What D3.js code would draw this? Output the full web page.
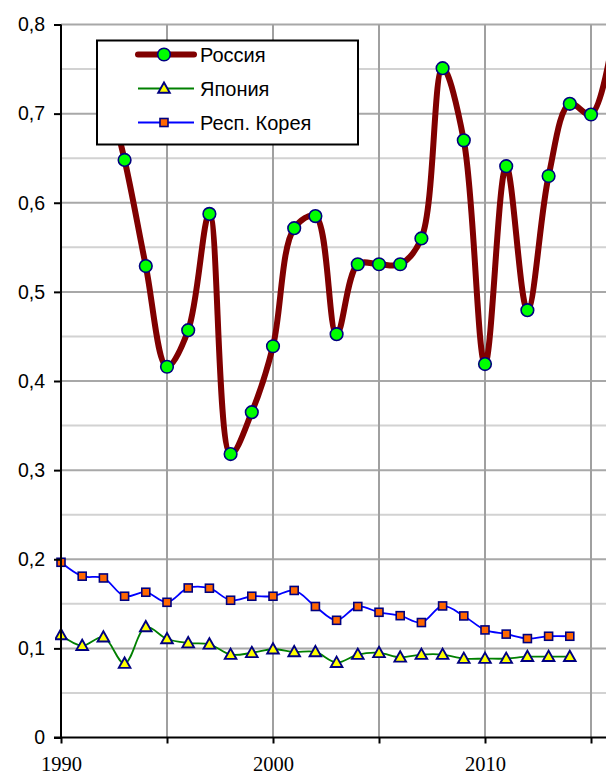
<!DOCTYPE html>
<html><head><meta charset="utf-8">
<script src="https://cdn.jsdelivr.net/npm/d3@7"></script>
<style>html,body{margin:0;padding:0;background:#fff;}svg{display:block;}</style>
</head><body>
<script>
const russiaYears = [1992,1993,1994,1995,1996,1997,1998,1999,2000,2001,2002,2003,2004,2005,2006,2007,2008,2009,2010,2011,2012,2013,2014,2015,2016];
const russiaValues = [0.74,0.648,0.529,0.416,0.457,0.5875,0.318,0.365,0.439,0.5715,0.585,0.4525,0.531,0.531,0.531,0.560,0.751,0.670,0.419,0.641,0.4795,0.630,0.711,0.699,0.78];
const otherYears = [1990,1991,1992,1993,1994,1995,1996,1997,1998,1999,2000,2001,2002,2003,2004,2005,2006,2007,2008,2009,2010,2011,2012,2013,2014];
const japanValues = [0.115,0.103,0.1125,0.083,0.124,0.1105,0.106,0.1046,0.093,0.095,0.099,0.096,0.096,0.084,0.093,0.095,0.090,0.093,0.093,0.0885,0.0885,0.0885,0.0907,0.0907,0.0907];
const koreaValues = [0.1966,0.181,0.179,0.1585,0.163,0.1517,0.1678,0.1675,0.154,0.1585,0.1585,0.165,0.147,0.1315,0.147,0.1405,0.1367,0.129,0.1476,0.1364,0.1207,0.116,0.111,0.1136,0.1136];
const yTicks = [0,0.1,0.2,0.3,0.4,0.5,0.6,0.7,0.8];
const yGrid = [0.05,0.1,0.15,0.2,0.25,0.3,0.35,0.4,0.45,0.5,0.55,0.6,0.65,0.7,0.75,0.8];
const xTicks = [1990,1995,2000,2005,2010,2015];
const xLabels = [1990,2000,2010];
const seriesNames = ["Россия","Япония","Респ. Корея"];

const W = 606, H = 774;
const svg = d3.select("body").append("svg").attr("width", W).attr("height", H);
const x = d3.scaleLinear().domain([1990, 2015]).range([61, 591]);
const y = d3.scaleLinear().domain([0, 0.8]).range([737.5, 24.5]);

// grid
svg.append("g").selectAll("line").data(yGrid).join("line")
  .attr("x1", 61).attr("x2", W).attr("y1", d => y(d)).attr("y2", d => y(d))
  .attr("stroke", d => Math.abs(d*10 - Math.round(d*10)) < 1e-6 ? "#a8a8a8" : "#d2d2d2")
  .attr("stroke-width", 2);
svg.append("g").selectAll("line").data(xTicks.filter(d => d > 1990)).join("line")
  .attr("x1", d => x(d)).attr("x2", d => x(d)).attr("y1", y(0.8)).attr("y2", y(0))
  .attr("stroke", "#a0a0a0").attr("stroke-width", 2);

svg.append("clipPath").attr("id", "c").append("rect")
  .attr("x", 55).attr("y", 0).attr("width", W - 55).attr("height", H);
const plot = svg.append("g").attr("clip-path", "url(#c)");

const curve = d3.curveCatmullRom.alpha(0.5);
function lineOf(years, vals) {
  return d3.line().x((d, i) => x(years[i])).y(d => y(d)).curve(curve)(vals);
}
const triPath = "M0,-6L5.8,4.3L-5.8,4.3Z";

// Korea
plot.append("path").attr("d", lineOf(otherYears, koreaValues)).attr("fill", "none")
  .attr("stroke", "#0000ff").attr("stroke-width", 1.8);
plot.append("g").selectAll("rect").data(koreaValues).join("rect")
  .attr("x", (d, i) => x(otherYears[i]) - 4).attr("y", d => y(d) - 4)
  .attr("width", 8).attr("height", 8)
  .attr("fill", "#ff6600").attr("stroke", "#000080").attr("stroke-width", 1.6);
// Japan
plot.append("path").attr("d", lineOf(otherYears, japanValues)).attr("fill", "none")
  .attr("stroke", "#008000").attr("stroke-width", 1.8);
plot.append("g").selectAll("path").data(japanValues).join("path")
  .attr("d", triPath)
  .attr("transform", (d, i) => `translate(${x(otherYears[i])},${y(d)})`)
  .attr("fill", "#ffff00").attr("stroke", "#000080").attr("stroke-width", 1.9);
// Russia
plot.append("path").attr("d", lineOf(russiaYears, russiaValues)).attr("fill", "none")
  .attr("stroke", "#800000").attr("stroke-width", 6).attr("stroke-linejoin", "round").attr("stroke-linecap", "round");
plot.append("g").selectAll("circle").data(russiaValues.filter((d, i) => russiaYears[i] <= 2015)).join("circle")
  .attr("cx", (d, i) => x(russiaYears[i])).attr("cy", d => y(d)).attr("r", 6.3)
  .attr("fill", "#00ff00").attr("stroke", "#000080").attr("stroke-width", 1.6);

// axes
const yAxis = d3.axisLeft(y).tickValues(yTicks).tickSize(7).tickPadding(9)
  .tickFormat(d => d === 0 ? "0" : d.toFixed(1).replace(".", ","));
const gy = svg.append("g").attr("transform", "translate(61,0)").call(yAxis);
gy.select(".domain").attr("stroke", "#000").attr("stroke-width", 2).attr("d", `M0,${y(0.8)}V${y(0)}`);
gy.selectAll(".tick line").attr("stroke", "#000").attr("stroke-width", 2);
gy.selectAll(".tick text").attr("font-family", "Liberation Sans, Arial, sans-serif")
  .attr("font-size", 19.5).attr("fill", "#000");

const xAxis = d3.axisBottom(x).tickValues(xTicks).tickSize(6).tickPadding(13)
  .tickFormat(d => xLabels.includes(d) ? String(d) : "");
const gx = svg.append("g").attr("transform", `translate(0,${y(0)})`).call(xAxis);
gx.select(".domain").attr("stroke", "#000").attr("stroke-width", 2).attr("d", `M54,0H${W}`);
gx.selectAll(".tick line").attr("stroke", "#000").attr("stroke-width", 2);
gx.selectAll(".tick text").attr("font-family", "Liberation Serif, Times New Roman, serif")
  .attr("font-size", 20.5).attr("fill", "#000");

// legend
const lg = svg.append("g");
lg.append("rect").attr("x", 97).attr("y", 40.5).attr("width", 261).attr("height", 104)
  .attr("fill", "#fff").attr("stroke", "#000").attr("stroke-width", 2);
const rows = [54.5, 88.5, 122.5];
const styles = [
  {stroke: "#800000", w: 6},
  {stroke: "#008000", w: 1.8},
  {stroke: "#0000ff", w: 1.8}
];
seriesNames.forEach((name, i) => {
  const yy = rows[i];
  lg.append("line").attr("x1", 138).attr("x2", 194).attr("y1", yy).attr("y2", yy)
    .attr("stroke", styles[i].stroke).attr("stroke-width", styles[i].w).attr("stroke-linecap", i === 0 ? "round" : "butt");
  if (i === 0) {
    lg.append("circle").attr("cx", 164).attr("cy", yy).attr("r", 6.3)
      .attr("fill", "#00ff00").attr("stroke", "#000080").attr("stroke-width", 1.6);
  } else if (i === 1) {
    lg.append("path").attr("d", triPath).attr("transform", `translate(164,${yy})`)
      .attr("fill", "#ffff00").attr("stroke", "#000080").attr("stroke-width", 1.9);
  } else {
    lg.append("rect").attr("x", 160).attr("y", yy - 4).attr("width", 8).attr("height", 8)
      .attr("fill", "#ff6600").attr("stroke", "#000080").attr("stroke-width", 1.6);
  }
  lg.append("text").attr("x", 200).attr("y", yy).attr("dy", "0.36em")
    .attr("font-family", "Liberation Sans, Arial, sans-serif").attr("font-size", 20)
    .attr("fill", "#000").text(name);
});
</script>
</body></html>
